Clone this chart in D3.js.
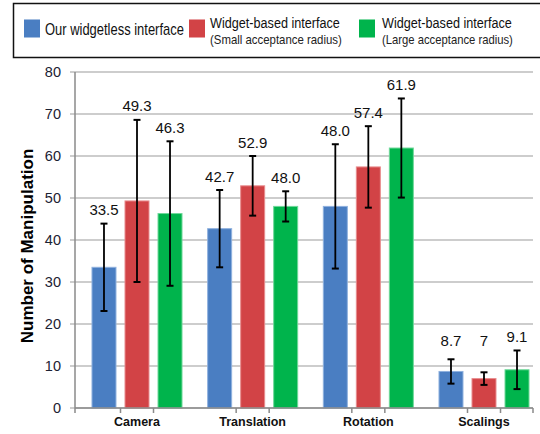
<!DOCTYPE html>
<html>
<head>
<meta charset="utf-8">
<script src="https://cdn.jsdelivr.net/npm/d3@7/dist/d3.min.js"></script>
<style>
  html, body { margin: 0; padding: 0; background: #fff; }
  svg { display: block; font-family: "Liberation Sans", Arial, sans-serif; }
</style>
</head>
<body>
<svg id="chart" width="540" height="434"></svg>
<script>
// Task categories and the three interface conditions
const categories = ["Camera", "Translation", "Rotation", "Scalings"];
const seriesNames = ["widgetless", "smallRadius", "largeRadius"];

// Mean number of manipulations per condition
const widgetless  = [33.5, 42.7, 48.0, 8.7];
const smallRadius = [49.3, 52.9, 57.4, 7];
const largeRadius = [46.3, 48.0, 61.9, 9.1];

// Half-length of each error bar
const widgetlessErr  = [10.4, 9.2, 14.8, 2.9];
const smallRadiusErr = [19.3, 7.1, 9.7, 1.5];
const largeRadiusErr = [17.2, 3.6, 11.8, 4.6];

// Printed labels above each bar
const widgetlessLabels  = ["33.5", "42.7", "48.0", "8.7"];
const smallRadiusLabels = ["49.3", "52.9", "57.4", "7"];
const largeRadiusLabels = ["46.3", "48.0", "61.9", "9.1"];

const yTicks = [0, 10, 20, 30, 40, 50, 60, 70, 80];

const colors = { widgetless: "#4a7ec2", smallRadius: "#d24346", largeRadius: "#00b44c" };
const edgeColors = { widgetless: "#8fb1de", smallRadius: "#e88c8e", largeRadius: "#6fd89a" };

const values = { widgetless, smallRadius, largeRadius };
const errors = { widgetless: widgetlessErr, smallRadius: smallRadiusErr, largeRadius: largeRadiusErr };
const labels = { widgetless: widgetlessLabels, smallRadius: smallRadiusLabels, largeRadius: largeRadiusLabels };

const svg = d3.select("#chart");

const plotLeft = 75, plotRight = 533, plotTop = 72, plotBottom = 408;

const y = d3.scaleLinear().domain([0, 80]).range([plotBottom, plotTop]);
const x = d3.scalePoint().domain(categories).range([137, 484]);
const xInner = d3.scaleBand().domain(seriesNames).range([-49.5, 49.5])
  .paddingInner(0.273).paddingOuter(0.136);

// Horizontal gridlines with outward ticks
svg.append("g").selectAll("line").data(yTicks).join("line")
  .attr("x1", plotLeft - 5).attr("x2", plotRight)
  .attr("y1", d => y(d)).attr("y2", d => y(d))
  .attr("stroke", "#bdbdbd").attr("stroke-width", 1.5);

// Y tick labels
svg.append("g").selectAll("text").data(yTicks).join("text")
  .attr("x", 61).attr("y", d => y(d) + 5)
  .attr("text-anchor", "end")
  .attr("font-size", 14.5).attr("fill", "#1c2233")
  .text(d => d);

// Bars
const rows = [];
categories.forEach((c, i) => {
  seriesNames.forEach(s => {
    rows.push({ cat: c, series: s, value: values[s][i], err: errors[s][i], label: labels[s][i] });
  });
});

svg.append("g").selectAll("rect").data(rows).join("rect")
  .attr("x", d => x(d.cat) + xInner(d.series))
  .attr("width", xInner.bandwidth())
  .attr("y", d => y(d.value))
  .attr("height", d => y(0) - y(d.value))
  .attr("fill", d => colors[d.series])
  .attr("stroke", d => edgeColors[d.series])
  .attr("stroke-width", 1);

// Axes lines
svg.append("line")
  .attr("x1", plotLeft).attr("x2", plotLeft)
  .attr("y1", plotTop).attr("y2", plotBottom)
  .attr("stroke", "#8a8a8a").attr("stroke-width", 1.5);
svg.append("line")
  .attr("x1", plotLeft).attr("x2", plotRight)
  .attr("y1", plotBottom).attr("y2", plotBottom)
  .attr("stroke", "#8a8a8a").attr("stroke-width", 1.5);

// X axis tick marks between the bars of each group and at the ends
const step = xInner.step();
const xTickPos = [plotLeft, plotRight];
categories.forEach(c => { xTickPos.push(x(c) - step / 2, x(c) + step / 2); });
svg.append("g").selectAll("line").data(xTickPos).join("line")
  .attr("x1", d => d).attr("x2", d => d)
  .attr("y1", plotBottom).attr("y2", plotBottom + 5)
  .attr("stroke", "#8a8a8a").attr("stroke-width", 1.5);

// Category labels
svg.append("g").selectAll("text").data(categories).join("text")
  .attr("x", d => x(d)).attr("y", 425.5)
  .attr("text-anchor", "middle")
  .attr("font-size", 12.5).attr("font-weight", "bold").attr("fill", "#111")
  .text(d => d);

// Error bars
const eb = svg.append("g").attr("stroke", "#000").attr("stroke-width", 1.8);
rows.forEach(d => {
  const cx = x(d.cat) + xInner(d.series) + xInner.bandwidth() / 2;
  const y1 = y(d.value + d.err), y2 = y(d.value - d.err);
  eb.append("line").attr("x1", cx).attr("x2", cx).attr("y1", y1).attr("y2", y2);
  eb.append("line").attr("x1", cx - 3.5).attr("x2", cx + 3.5).attr("y1", y1).attr("y2", y1).attr("stroke-width", 2);
  eb.append("line").attr("x1", cx - 3.5).attr("x2", cx + 3.5).attr("y1", y2).attr("y2", y2).attr("stroke-width", 2);
});

// Value labels above the error bars
svg.append("g").selectAll("text").data(rows).join("text")
  .attr("x", d => x(d.cat) + xInner(d.series) + xInner.bandwidth() / 2)
  .attr("y", d => Math.min(y(d.value + d.err) - 14, y(16)) + 5.5)
  .attr("text-anchor", "middle")
  .attr("font-size", 15).attr("fill", "#111")
  .text(d => d.label);

// Condensed text: draw at natural size, then squeeze horizontally to a target width
function squeezedText(parent, tx, ty, str, size, width, fill, weight, rotate) {
  const t = parent.append("text")
    .attr("font-size", size).attr("fill", fill)
    .attr("font-weight", weight || "normal")
    .text(str);
  const natural = t.node().getComputedTextLength();
  const k = Math.min(1, width / natural);
  if (rotate) {
    t.attr("text-anchor", "middle")
      .attr("transform", `translate(${tx},${ty}) rotate(-90) scale(${k},1)`);
  } else {
    t.attr("transform", `translate(${tx},${ty}) scale(${k},1)`);
  }
  return t;
}

// Y axis title
squeezedText(svg, 33, 246, "Number of Manipulation", 17, 205, "#000", "bold", true);

// Legend: open frame running off the right edge
const legend = svg.append("g");
legend.append("path")
  .attr("d", "M540,3.5 H13.5 V57.5 H540")
  .attr("fill", "none").attr("stroke", "#111").attr("stroke-width", 1.5);

const legendItems = [
  { series: "widgetless", sx: 24, tx: 45, lines: [["Our widgetless interface", 139]] },
  { series: "smallRadius", sx: 189, tx: 210, lines: [["Widget-based interface", 130], ["(Small acceptance radius)", 132]] },
  { series: "largeRadius", sx: 359, tx: 382, lines: [["Widget-based interface", 130], ["(Large acceptance radius)", 131]] }
];
legendItems.forEach(it => {
  legend.append("rect")
    .attr("x", it.sx).attr("y", 19.5).attr("width", 16).attr("height", 18)
    .attr("fill", colors[it.series]);
  if (it.lines.length === 1) {
    squeezedText(legend, it.tx, 35, it.lines[0][0], 16, it.lines[0][1], "#111");
  } else {
    squeezedText(legend, it.tx, 28, it.lines[0][0], 15, it.lines[0][1], "#111");
    squeezedText(legend, it.tx, 43.5, it.lines[1][0], 13, it.lines[1][1], "#222");
  }
});
</script>
</body>
</html>
